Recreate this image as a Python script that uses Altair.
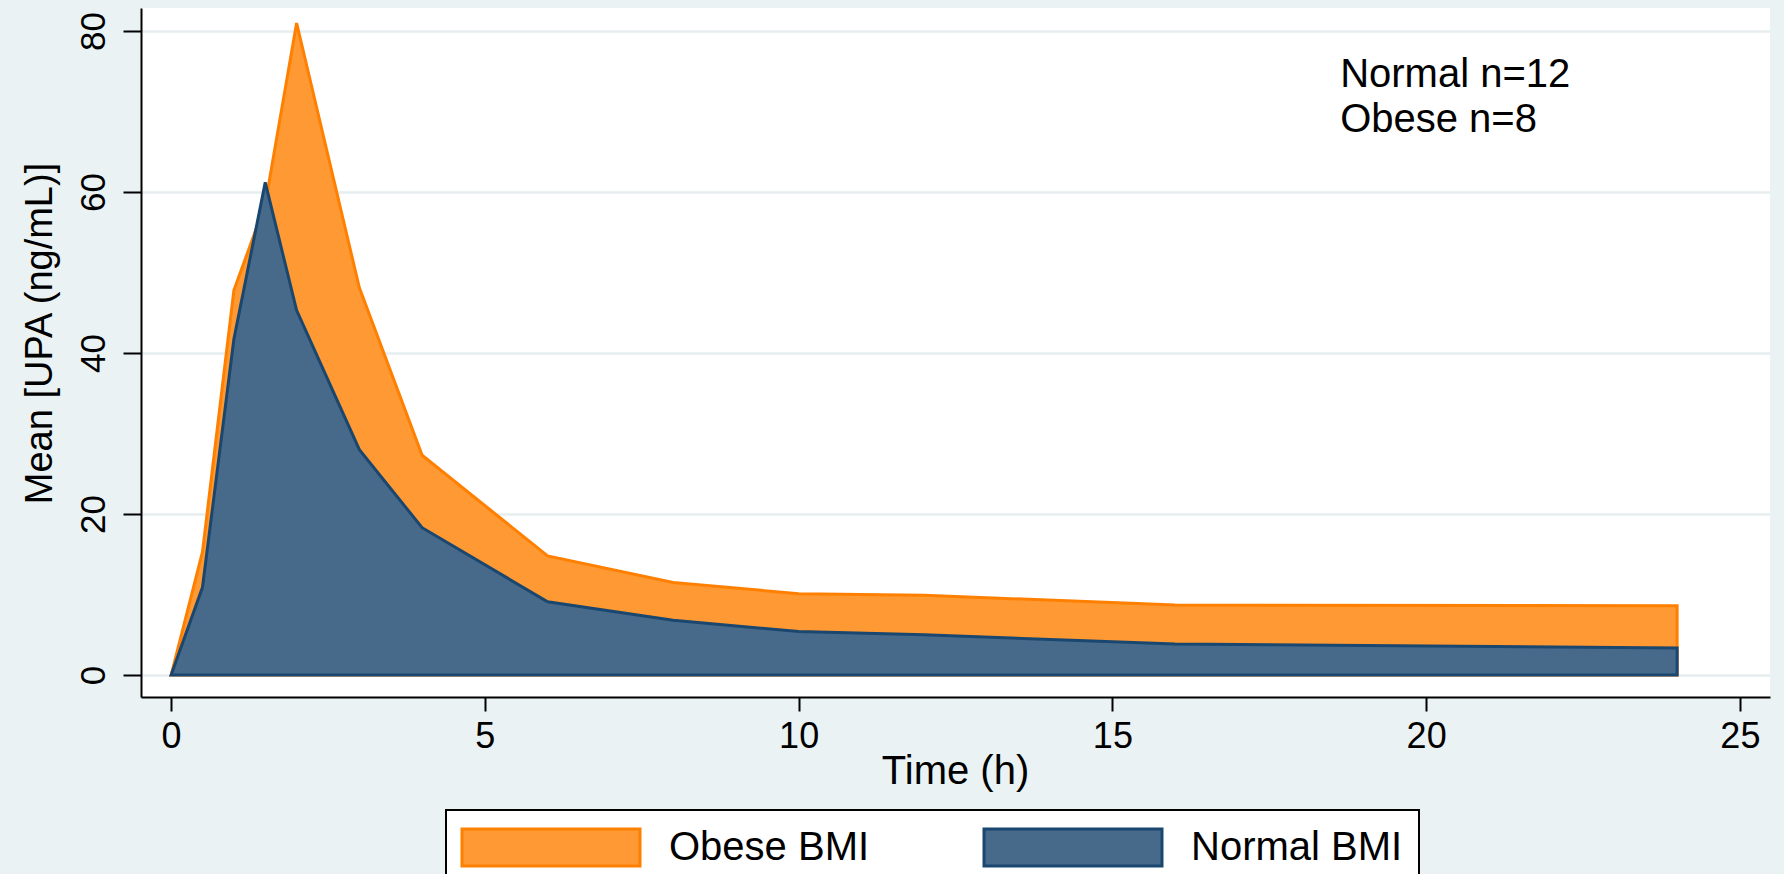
import altair as alt
import pandas as pd

# ---- data ----
time_h = [0, 0.5, 1, 1.5, 2, 3, 4, 6, 8, 10, 12, 16, 24]
obese_upa = [0, 15.3, 47.8, 58.5, 81.0, 48.1, 27.3, 14.8, 11.5, 10.1, 9.9, 8.7, 8.6]
normal_upa = [0, 10.9, 41.7, 61.2, 45.3, 28.0, 18.3, 9.1, 6.8, 5.4, 5.0, 3.85, 3.35]
series = ["Obese BMI", "Normal BMI"]
fill_colors = ["#FF9933", "#486A8A"]
stroke_colors = ["#FF8000", "#1A476F"]
x_ticks = [0, 5, 10, 15, 20, 25]
y_ticks = [0, 20, 40, 60, 80]
annot_text = ["Normal n=12", "Obese n=8"]
annot_x = [18.63, 18.63]
annot_y = [73.0, 67.45]

obese_df = pd.DataFrame({"time": time_h, "upa": obese_upa, "group": series[0]})
normal_df = pd.DataFrame({"time": time_h, "upa": normal_upa, "group": series[1]})
annot_df = pd.DataFrame({"label": annot_text, "x": annot_x, "y": annot_y})

FONT = "Liberation Sans"

x_enc = alt.X(
    "time:Q",
    scale=alt.Scale(domain=[-0.48, 25.48], nice=False, zero=False),
    axis=alt.Axis(
        values=x_ticks, title="Time (h)", grid=False,
        domainColor="black", domainWidth=2, tickColor="black", tickWidth=2,
        tickSize=14, labelFontSize=36, labelPadding=8, labelColor="black",
        labelFont=FONT, titleFont=FONT, titleFontSize=40, titleFontWeight="normal",
        titleColor="black", titleX=814, titleY=86, titleBaseline="alphabetic",
        titleAlign="center", format="d",
    ),
)
y_enc = alt.Y(
    "upa:Q",
    stack=None,
    scale=alt.Scale(domain=[-2.73, 82.86], nice=False, zero=False),
    axis=alt.Axis(
        values=y_ticks, title="Mean [UPA (ng/mL)]", grid=True,
        gridColor="#E6EEF0", gridWidth=2.5,
        domainColor="black", domainWidth=2, tickColor="black", tickWidth=2,
        tickSize=18, labelAngle=270, labelAlign="center", labelBaseline="alphabetic",
        labelPadding=19, labelFontSize=35, labelColor="black", labelFont=FONT,
        titleFont=FONT, titleFontSize=38, titleFontWeight="normal", titleColor="black",
        titleAngle=270, titleX=-101, titleY=325, titleAlign="center",
        titleBaseline="middle", format="d",
    ),
)

# wide rectangle legend swatch: path in units of sqrt(size)/2 = 20 px
legend = alt.Legend(
    orient="none", legendX=305, legendY=802, direction="horizontal", title=None,
    symbolType="M-1.075,-0.925H7.825V0.925H-1.075Z", symbolSize=1600,
    symbolStrokeWidth=3, symbolOpacity=1, labelFont=FONT, labelFontSize=40,
    labelColor="black", labelOffset=164, columnPadding=108, padding=16,
    strokeColor="black", fillColor="white", labelLimit=600, gridAlign="none",
)

fill_enc = alt.Fill("group:N", scale=alt.Scale(domain=series, range=fill_colors), legend=legend)
stroke_enc = alt.Stroke("group:N", scale=alt.Scale(domain=series, range=stroke_colors), legend=legend)

obese = alt.Chart(obese_df).mark_area(strokeWidth=3, fillOpacity=1, strokeJoin="miter").encode(
    x=x_enc, y=y_enc, fill=fill_enc, stroke=stroke_enc
)
normal = alt.Chart(normal_df).mark_area(strokeWidth=3, fillOpacity=1, strokeJoin="miter").encode(
    x=x_enc, y=y_enc, fill=fill_enc, stroke=stroke_enc
)
annot = alt.Chart(annot_df).mark_text(
    align="left", baseline="alphabetic", fontSize=40, font=FONT, color="black"
).encode(x=alt.X("x:Q"), y=alt.Y("y:Q"), text="label:N")

chart = (
    alt.layer(obese, normal, annot)
    .properties(
        width=1629, height=689,
        padding={"left": 141, "top": 8, "right": 14, "bottom": 177},
        autosize=alt.AutoSizeParams(type="none"),
        background="#EAF2F3",
    )
    .configure(font=FONT)
    .configure_view(fill="white", stroke=None)
    .configure_legend(strokeWidth=2)
)

chart.save("out.html", embed_options={"renderer": "svg", "actions": False})
